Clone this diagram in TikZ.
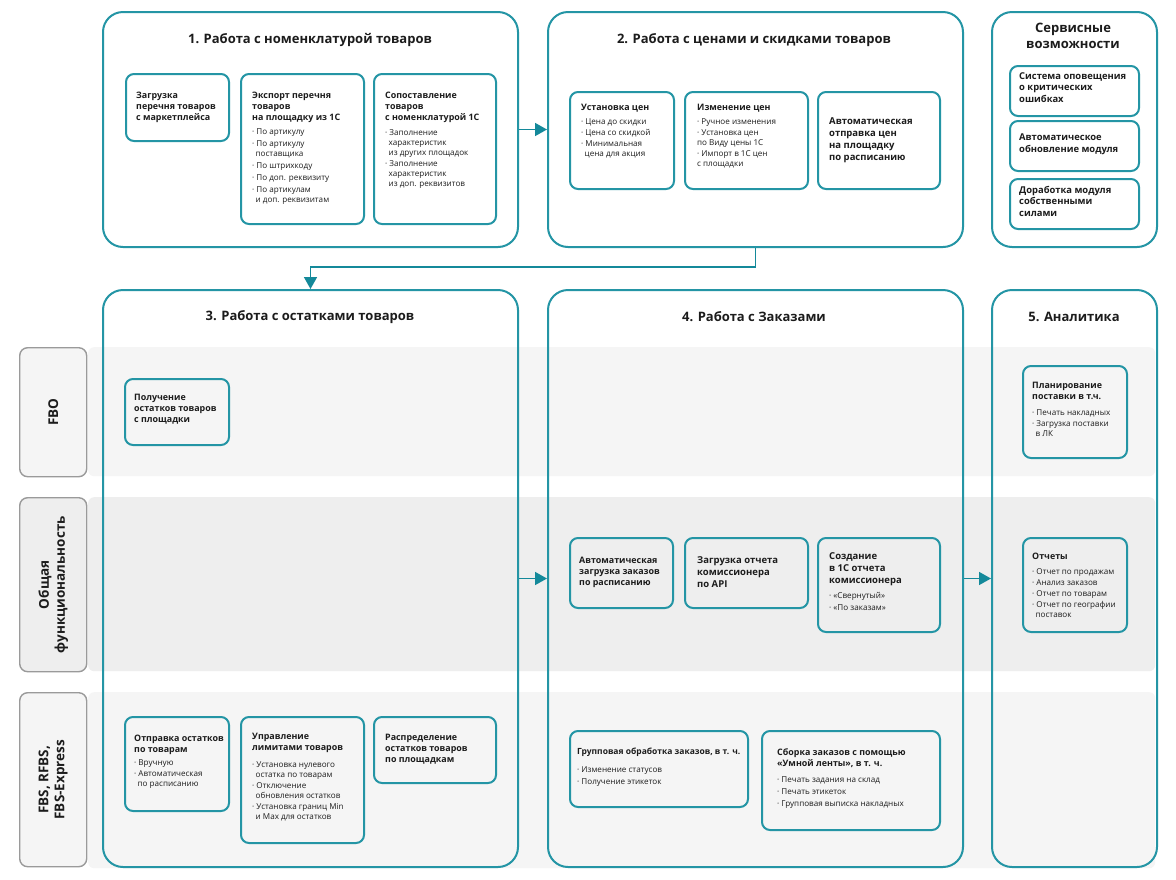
\documentclass[tikz,border=0pt]{standalone}
\usepackage{fontspec}
\setmainfont{Open Sans}
\usetikzlibrary{arrows.meta}
\definecolor{tealc}{HTML}{2495A5}
\definecolor{arrc}{HTML}{14899A}
\definecolor{bandA}{HTML}{F5F5F5}
\definecolor{bandB}{HTML}{EEEEEE}
\definecolor{lblline}{HTML}{9A9A9A}
\definecolor{txtc}{HTML}{1C1C1C}
\newcommand\myTtl{\fontsize{13}{15}\selectfont\bfseries}
\newcommand\myHd{\fontsize{8.9}{11}\selectfont\bfseries}
\newcommand\myHdL{\fontsize{9.5}{12}\selectfont\bfseries}
\newcommand\myBl{\fontsize{8.1}{10}\selectfont}
\newcommand\bulind{\hphantom{·\,}}
\tikzset{
  bigbox/.style={draw=tealc, line width=2pt, rounded corners=20pt, inner sep=0pt},
  card/.style={draw=tealc, line width=2pt, rounded corners=8pt, inner sep=0pt},
  band/.style={fill=#1, draw=none, rounded corners=6pt, inner sep=0pt},
  lbl/.style={fill=#1, draw=lblline, line width=1.4pt, rounded corners=8pt, inner sep=0pt},
  ttl/.style={font=\myTtl, text=txtc, inner sep=0pt},
  hd/.style={font=\myHd, text=txtc, align=left, anchor=north west, inner sep=0pt},
  hdl/.style={font=\myHdL, text=txtc, align=left, anchor=north west, inner sep=0pt},
  bl/.style={font=\myBl, text=txtc, align=left, anchor=north west, inner sep=0pt},
  lbltxt/.style={font=\fontsize{13.5}{16}\selectfont\bfseries, text=txtc, rotate=90, align=center, inner sep=0pt},
  conn/.style={draw=arrc, line width=1.6pt, -{Triangle[length=12pt,width=13pt]}},
}
\begin{document}
\begin{tikzpicture}[x=1pt,y=-1pt]
\useasboundingbox[fill=white] (0,0) rectangle (1176,879);

% bands
\node[band=bandA, minimum width=1067, minimum height=129, anchor=north west] (bandFBO) at (88,347) {};
\node[band=bandB, minimum width=1067, minimum height=174, anchor=north west] (bandGen) at (88,497) {};
\node[band=bandA, minimum width=1067, minimum height=176, anchor=north west] (bandFBS) at (88,692) {};

% row labels
\node[lbl=bandA, minimum width=67, minimum height=129, anchor=north west] (lFBO) at (19,347) {};
\node[lbl=bandB, minimum width=67, minimum height=174, anchor=north west] (lGen) at (19,497) {};
\node[lbl=bandA, minimum width=67, minimum height=174, anchor=north west] (lFBS) at (19,692) {};
\node[lbltxt] (tFBO) at (lFBO.center) {FBO};
\node[lbltxt] (tGen) at (lGen.center) {Общая\\функциональность};
\node[lbltxt] (tFBS) at (lFBS.center) {FBS, RFBS,\\FBS-Express};

% big boxes
\node[bigbox, fill=white, minimum width=415, minimum height=235, anchor=north west] (B1) at (102,11) {};
\node[bigbox, fill=white, minimum width=415, minimum height=235, anchor=north west] (B2) at (547,11) {};
\node[bigbox, fill=white, minimum width=165, minimum height=235, anchor=north west] (SV) at (991,11) {};
\node[bigbox, minimum width=415, minimum height=577, anchor=north west] (B3) at (102,289) {};
\node[bigbox, minimum width=415, minimum height=577, anchor=north west] (B4) at (547,289) {};
\node[bigbox, minimum width=165, minimum height=577, anchor=north west] (B5) at (991,289) {};

% titles
\node[ttl] (t1) at (310,40) {1. Работа с номенклатурой товаров};
\node[ttl] (t2) at (754,40) {2. Работа с ценами и скидками товаров};
\node[ttl, align=center, font=\fontsize{13}{15.5}\selectfont\bfseries] (tSV) at (1073,36) {Сервисные\\возможности};
\node[ttl] (t3) at (310,317) {3. Работа с остатками товаров};
\node[ttl] (t4) at (754,317) {4. Работа с Заказами};
\node[ttl] (t5) at (1074,317) {5. Аналитика};

% connectors
\draw[conn] (B1.east) -- (B2.west);
\draw[conn] (B2.south) -- ++(0,19) -| (B3.north);
\draw[conn] (B3.east) -- (B4.west);
\draw[conn] (B4.east) -- (B5.west);

% ---- block 1 cards
\node[card, minimum width=103, minimum height=67, anchor=north west] (cA) at (125,73) {};
\node[card, minimum width=123, minimum height=150, anchor=north west] (cB) at (240,73) {};
\node[card, minimum width=122, minimum height=150, anchor=north west] (cC) at (373,73) {};
\node[hd] (hA) at (136,92) {Загрузка\\перечня товаров\\с маркетплейса};
\node[hd] (hB) at (252,92) {Экспорт перечня\\товаров\\на площадку из 1С};
\node[bl] (lB) at (252,129) {· По артикулу\\[2pt]· По артикулу\\\bulind поставщика\\[2pt]· По штрихкоду\\[2pt]· По доп. реквизиту\\[2pt]· По артикулам\\\bulind и доп. реквизитам};
\node[hd] (hC) at (385,92) {Сопоставление\\товаров\\с номенклатурой 1С};
\node[bl] (lC) at (385,129) {· Заполнение\\\bulind характеристик\\\bulind из других площадок\\[1pt]· Заполнение\\\bulind характеристик\\\bulind из доп. реквизитов};

% ---- block 2 cards
\node[card, minimum width=104, minimum height=97, anchor=north west] (cD) at (569,91) {};
\node[card, minimum width=123, minimum height=97, anchor=north west] (cE) at (684,91) {};
\node[card, minimum width=122, minimum height=97, anchor=north west] (cF) at (817,91) {};
\node[hd] (hD) at (581,104) {Установка цен};
\node[bl] (lD) at (581,119) {· Цена до скидки\\[1pt]· Цена со скидкой\\[1pt]· Минимальная\\\bulind цена для акция};
\node[hd] (hE) at (697,104) {Изменение цен};
\node[bl] (lE) at (697,119) {· Ручное изменения\\[1pt]· Установка цен\\по Виду цены 1С\\[1pt]· Импорт в 1С цен\\с площадки};
\node[hdl] (hF) at (829,117) {Автоматическая\\отправка цен\\на площадку\\по расписанию};

% ---- service cards
\node[card, minimum width=129, minimum height=50, anchor=north west] (s1) at (1009,65) {};
\node[card, minimum width=129, minimum height=50, anchor=north west] (s2) at (1009,120) {};
\node[card, minimum width=129, minimum height=50, anchor=north west] (s3) at (1009,178) {};
\node[hd, font=\fontsize{9.4}{11.5}\selectfont\bfseries] (hs1) at (1019,72) {Система оповещения\\о критических\\ошибках};
\node[hd, font=\fontsize{9.4}{11.5}\selectfont\bfseries] (hs2) at (1019,134) {Автоматическое\\обновление модуля};
\node[hd, font=\fontsize{9.4}{11.5}\selectfont\bfseries] (hs3) at (1019,186) {Доработка модуля\\собственными\\силами};

% ---- block 3 cards
\node[card, minimum width=104, minimum height=66, anchor=north west] (c31) at (124,378) {};
\node[hd] (h31) at (134,394) {Получение\\остатков товаров\\с площадки};
\node[card, minimum width=104, minimum height=94, anchor=north west] (c32) at (124,716) {};
\node[hd] (h32) at (134,735) {Отправка остатков\\по товарам};
\node[bl] (l32) at (134,760) {· Вручную\\[1pt]· Автоматическая\\\bulind по расписанию};
\node[card, minimum width=123, minimum height=126, anchor=north west] (c33) at (240,716) {};
\node[hd] (h33) at (252,733) {Управление\\лимитами товаров};
\node[bl] (l33) at (252,762) {· Установка нулевого\\\bulind остатка по товарам\\[1pt]· Отключение\\\bulind обновления остатков\\[1pt]· Установка границ Min\\\bulind и Max для остатков};
\node[card, minimum width=122, minimum height=66, anchor=north west] (c34) at (373,716) {};
\node[hd] (h34) at (385,734) {Распределение\\остатков товаров\\по площадкам};

% ---- block 4 cards
\node[card, minimum width=103, minimum height=70, anchor=north west] (c41) at (569,537) {};
\node[hd] (h41) at (579,557) {Автоматическая\\загрузка заказов\\по расписанию};
\node[card, minimum width=123, minimum height=70, anchor=north west] (c42) at (684,537) {};
\node[hdl] (h42) at (697,556) {Загрузка отчета\\комиссионера\\по API};
\node[card, minimum width=122, minimum height=94, anchor=north west] (c43) at (817,537) {};
\node[hdl] (h43) at (829,552) {Создание\\в 1С отчета\\комиссионера};
\node[bl] (l43) at (829,592) {· «Свернутый»\\[2pt]· «По заказам»};
\node[card, minimum width=178, minimum height=76, anchor=north west] (c44) at (569,730) {};
\node[hd, font=\fontsize{8.5}{11}\selectfont\bfseries] (h44) at (577,748) {Групповая обработка заказов, в т. ч.};
\node[bl] (l44) at (577,767) {· Изменение статусов\\[2pt]· Получение этикеток};
\node[card, minimum width=178, minimum height=99, anchor=north west] (c45) at (761,730) {};
\node[hd] (h45) at (777,748) {Сборка заказов с помощью\\«Умной ленты», в т. ч.};
\node[bl] (l45) at (777,777) {· Печать задания на склад\\[2pt]· Печать этикеток\\[2pt]· Групповая выписка накладных};

% ---- block 5 cards
\node[card, minimum width=104, minimum height=92, anchor=north west] (c51) at (1022,365) {};
\node[hd] (h51) at (1032,382) {Планирование\\поставки в т.ч.};
\node[bl] (l51) at (1032,410) {· Печать накладных\\[1pt]· Загрузка поставки\\\bulind в ЛК};
\node[card, minimum width=104, minimum height=94, anchor=north west] (c52) at (1022,537) {};
\node[hd] (h52) at (1032,553) {Отчеты};
\node[bl] (l52) at (1032,568) {· Отчет по продажам\\[1pt]· Анализ заказов\\[1pt]· Отчет по товарам\\[1pt]· Отчет по географии\\\bulind поставок};
\end{tikzpicture}
\end{document}
